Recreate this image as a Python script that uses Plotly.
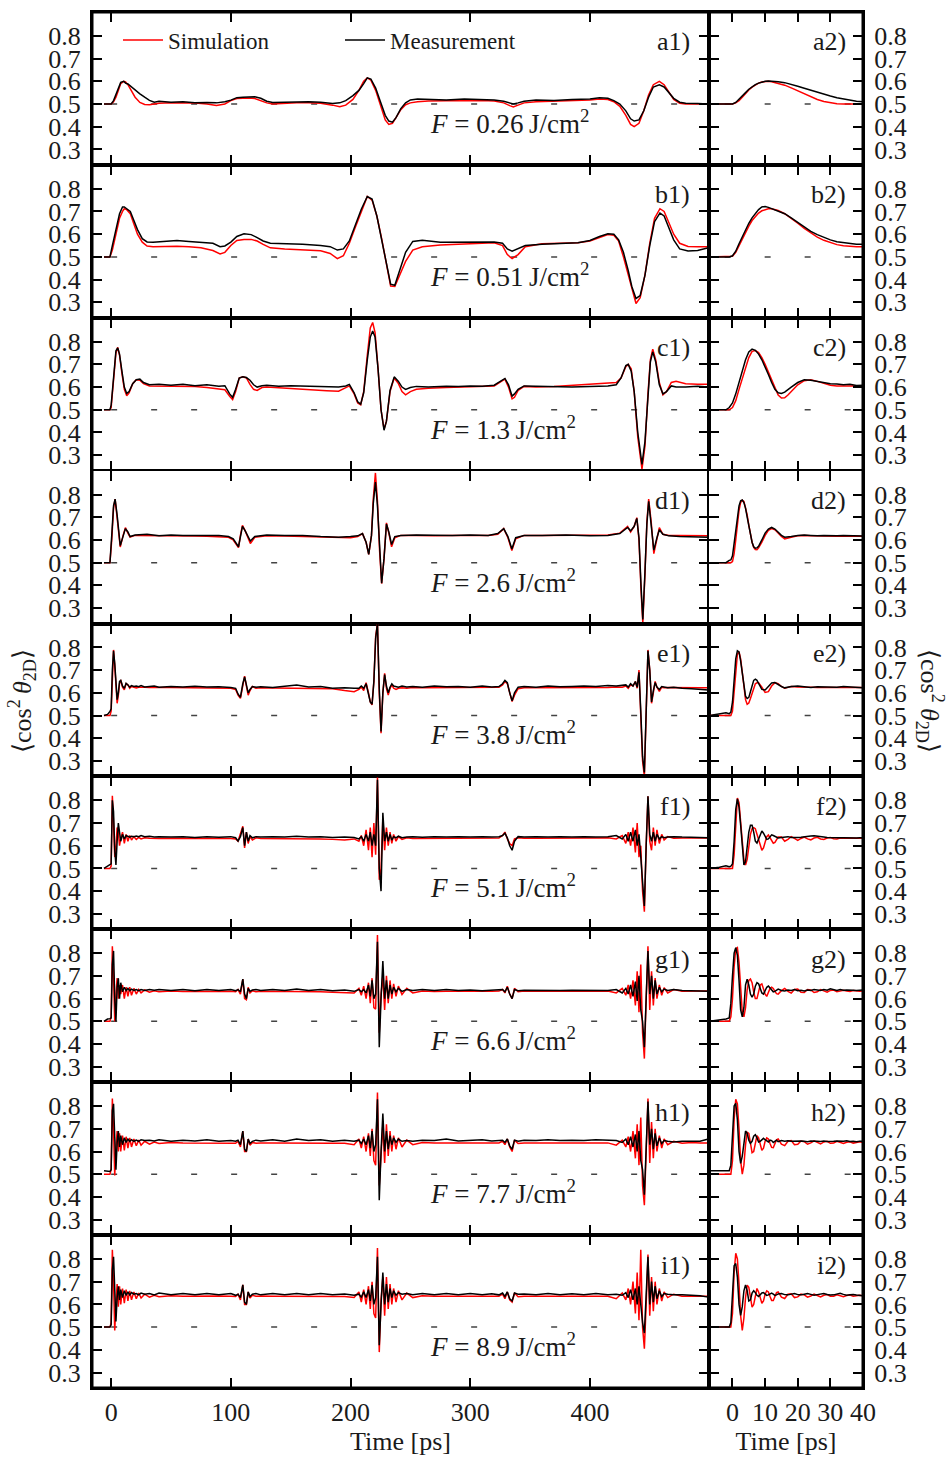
import plotly.graph_objects as go
from plotly.subplots import make_subplots

# ---------------- data ----------------
ROW_LETTERS = ["a", "b", "c", "d", "e", "f", "g", "h", "i"]
FLUENCE = ["0.26", "0.51", "1.3", "2.6", "3.8", "5.1", "6.6", "7.7", "8.9"]
X_TICKS_LEFT = [0, 100, 200, 300, 400]
X_TICKS_RIGHT = [0, 10, 20, 30, 40]
Y_TICKS = [0.3, 0.4, 0.5, 0.6, 0.7, 0.8]
Y_TICK_TEXT = ["0.3", "0.4", "0.5", "0.6", "0.7", "0.8"]
BASELINE = 0.5

T_A1 = [-6, 0, 2, 4, 6, 8, 10.5, 12, 14, 17,
        20, 24, 28, 32, 36, 40, 50, 60, 70, 80,
        88, 95, 100, 105, 110, 115, 120, 125, 130, 135,
        145, 155, 165, 175, 185, 191, 196, 202, 207, 211,
        214, 217, 221, 225, 229, 232, 235, 238, 242, 246,
        250, 256, 265, 280, 295, 310, 320, 328, 333, 336,
        340, 345, 355, 370, 385, 400, 408, 415, 420, 425,
        430, 434, 437, 441, 445, 449, 453, 458, 462, 466,
        470, 475, 480, 490, 499]
SIM_A1 = [0.5, 0.5, 0.51, 0.53, 0.56, 0.59, 0.6, 0.597, 0.585, 0.56,
          0.53, 0.507, 0.498, 0.497, 0.5, 0.503, 0.505, 0.505, 0.504, 0.5,
          0.494, 0.5, 0.515, 0.524, 0.526, 0.526, 0.524, 0.515, 0.505, 0.5,
          0.503, 0.505, 0.505, 0.503, 0.495, 0.488, 0.495, 0.52, 0.56, 0.6,
          0.615, 0.605, 0.56, 0.49, 0.43, 0.41, 0.415, 0.44, 0.475, 0.497,
          0.505, 0.51, 0.513, 0.514, 0.515, 0.515, 0.513, 0.505, 0.493, 0.487,
          0.495, 0.505, 0.51, 0.512, 0.514, 0.518, 0.522, 0.52, 0.51, 0.49,
          0.45, 0.41, 0.4, 0.415, 0.47, 0.54, 0.585, 0.6, 0.585, 0.55,
          0.52, 0.503, 0.5, 0.5, 0.5]
MEAS_A1 = [0.5, 0.5, 0.515, 0.54, 0.57, 0.595, 0.6, 0.592, 0.588, 0.575,
           0.56, 0.545, 0.53, 0.516, 0.508, 0.512, 0.508, 0.51, 0.505, 0.507,
           0.505, 0.51, 0.517, 0.528, 0.53, 0.53, 0.532, 0.525, 0.512, 0.507,
           0.508, 0.51, 0.51, 0.508, 0.502, 0.505, 0.515, 0.537, 0.56, 0.59,
           0.615, 0.61, 0.57, 0.51, 0.45, 0.425, 0.42, 0.44, 0.48, 0.505,
           0.518, 0.522, 0.52, 0.518, 0.522, 0.52, 0.518, 0.512, 0.505, 0.5,
           0.505, 0.512, 0.518, 0.515, 0.52, 0.522, 0.528, 0.525, 0.515, 0.5,
           0.47, 0.435, 0.425, 0.43, 0.47, 0.53, 0.575, 0.585, 0.575, 0.55,
           0.525, 0.508, 0.503, 0.502, 0.5]

T_B1 = [-6, -1, 1, 3, 5, 7, 9.5, 11, 13, 16,
        19, 22, 26, 30, 35, 45, 55, 65, 75, 85,
        91, 95, 100, 105, 111, 117, 122, 127, 133, 145,
        160, 175, 183, 189, 194, 199, 204, 209, 214, 218,
        222, 226, 230, 233.5, 237, 241, 246, 252, 260, 275,
        290, 305, 320, 327, 331, 335, 340, 346, 360, 375,
        390, 400, 408, 415, 420, 424, 428, 432, 435, 438.5,
        442, 446, 450, 454, 458.5, 462, 466, 470, 475, 482,
        490, 499]
SIM_B1 = [0.5, 0.5, 0.53, 0.58, 0.63, 0.67, 0.7, 0.712, 0.708, 0.69,
          0.645, 0.6, 0.565, 0.548, 0.545, 0.547, 0.547, 0.545, 0.54, 0.528,
          0.513, 0.52, 0.55, 0.572, 0.577, 0.577, 0.57, 0.555, 0.54, 0.535,
          0.532, 0.527, 0.515, 0.492, 0.505, 0.56, 0.63, 0.7, 0.766, 0.75,
          0.68, 0.58, 0.46, 0.372, 0.37, 0.42, 0.48, 0.53, 0.545, 0.552,
          0.556, 0.56, 0.562, 0.55, 0.51, 0.493, 0.51, 0.545, 0.558, 0.56,
          0.562, 0.57, 0.585, 0.598, 0.595, 0.57, 0.5, 0.42, 0.36, 0.295,
          0.32, 0.42, 0.56, 0.67, 0.712, 0.7, 0.65, 0.6, 0.56, 0.546,
          0.545, 0.545]
MEAS_B1 = [0.5, 0.5, 0.55, 0.6, 0.65, 0.69, 0.72, 0.72, 0.712, 0.7,
           0.66, 0.62, 0.58, 0.566, 0.565, 0.568, 0.572, 0.568, 0.565, 0.56,
           0.545, 0.548, 0.565, 0.59, 0.602, 0.598, 0.585, 0.57, 0.56, 0.558,
           0.556, 0.55, 0.545, 0.53, 0.535, 0.57, 0.64, 0.71, 0.766, 0.755,
           0.68, 0.58, 0.47, 0.38, 0.375, 0.44, 0.52, 0.568, 0.573, 0.565,
           0.566, 0.565, 0.566, 0.56, 0.535, 0.525, 0.535, 0.55, 0.556, 0.558,
           0.562, 0.572, 0.59, 0.602, 0.6, 0.575, 0.52, 0.44, 0.37, 0.317,
           0.33, 0.42, 0.55, 0.655, 0.693, 0.68, 0.63, 0.575, 0.535, 0.526,
           0.528, 0.54]

T_C1 = [-6, -1, 0, 2, 4, 5.5, 7, 9, 11, 13,
        15, 18, 21, 24, 27, 32, 40, 50, 60, 70,
        80, 90, 95, 99, 101.5, 104, 107, 110, 113, 116,
        119, 122, 126, 130, 140, 150, 160, 170, 180, 190,
        196, 199, 203, 206, 208.5, 211, 214, 216.5, 218.5, 220.5,
        223, 225.5, 228, 230, 233, 236.5, 240, 243, 246, 250,
        255, 265, 280, 290, 300, 310, 320, 326, 329, 332,
        335, 337, 340, 345, 355, 370, 385, 400, 415, 422,
        426, 430, 432, 434.5, 437, 440, 443.5, 446, 448.5, 450.5,
        452.5, 455, 458, 461, 464, 468, 472, 480, 490, 499]
SIM_C1 = [0.5, 0.5, 0.51, 0.62, 0.75, 0.775, 0.74, 0.66, 0.59, 0.562,
          0.575, 0.615, 0.632, 0.63, 0.615, 0.605, 0.605, 0.604, 0.603, 0.602,
          0.598, 0.592, 0.588, 0.56, 0.545, 0.58, 0.64, 0.645, 0.64, 0.612,
          0.59, 0.585, 0.598, 0.6, 0.598, 0.594, 0.59, 0.586, 0.584, 0.582,
          0.595, 0.605, 0.57, 0.53, 0.522, 0.58, 0.74, 0.86, 0.884, 0.84,
          0.68, 0.5, 0.415, 0.45, 0.58, 0.64, 0.615, 0.58, 0.566, 0.58,
          0.59, 0.595, 0.598, 0.6, 0.6, 0.602, 0.605, 0.625, 0.635, 0.6,
          0.548, 0.555, 0.585, 0.603, 0.6, 0.603, 0.607, 0.612, 0.615, 0.62,
          0.64, 0.69, 0.7, 0.68, 0.58, 0.38, 0.239, 0.34, 0.57, 0.72,
          0.767, 0.72, 0.62, 0.566, 0.58, 0.62, 0.625, 0.615, 0.612, 0.612]
MEAS_C1 = [0.5, 0.5, 0.52, 0.64, 0.76, 0.772, 0.745, 0.67, 0.6, 0.572,
           0.58, 0.615, 0.632, 0.635, 0.62, 0.61, 0.612, 0.608, 0.612, 0.606,
           0.61, 0.604, 0.606, 0.57, 0.555, 0.59, 0.64, 0.645, 0.642, 0.63,
           0.61, 0.6, 0.606, 0.608, 0.604, 0.606, 0.604, 0.605, 0.603, 0.6,
           0.605, 0.612, 0.575, 0.535, 0.525, 0.575, 0.72, 0.82, 0.847, 0.82,
           0.68, 0.5, 0.41, 0.45, 0.585, 0.645, 0.625, 0.6, 0.59, 0.598,
           0.603, 0.6, 0.604, 0.602, 0.605, 0.604, 0.608, 0.628, 0.638, 0.61,
           0.56, 0.57, 0.59, 0.605, 0.604, 0.601, 0.6, 0.602, 0.605, 0.61,
           0.64, 0.695, 0.7, 0.67, 0.58, 0.4, 0.26, 0.36, 0.57, 0.71,
           0.755, 0.71, 0.61, 0.57, 0.58, 0.605, 0.6, 0.6, 0.604, 0.6]

T_D1 = [-6, -1, 0.5, 2, 3.3, 5, 7.6, 10, 11.9, 14,
        15.8, 20, 30, 40, 50, 60, 70, 80, 90, 98,
        102, 106.4, 108, 109.7, 112, 116.3, 120, 130, 145, 160,
        175, 190, 200, 206, 210, 213, 215.2, 217.5, 219, 220.8,
        222.5, 224.3, 226, 228, 230, 232, 234.3, 237, 242, 255,
        270, 285, 300, 315, 323, 328, 331.5, 334.8, 338, 345,
        360, 380, 400, 415, 425, 431.5, 434, 437, 439.2, 441,
        442.7, 444.2, 446, 447.6, 449.1, 451.2, 453.4, 456, 458, 461,
        466, 475, 490, 499]
SIM_D1 = [0.5, 0.5, 0.6, 0.74, 0.78, 0.7, 0.569, 0.62, 0.654, 0.63,
          0.613, 0.62, 0.62, 0.62, 0.618, 0.617, 0.617, 0.616, 0.615, 0.612,
          0.6, 0.566, 0.62, 0.664, 0.64, 0.584, 0.612, 0.618, 0.617, 0.615,
          0.612, 0.608, 0.61, 0.615, 0.628, 0.59, 0.537, 0.62, 0.78, 0.895,
          0.77, 0.55, 0.408, 0.52, 0.675, 0.63, 0.57, 0.61, 0.62, 0.62,
          0.618, 0.62, 0.62, 0.62, 0.625, 0.65, 0.61, 0.554, 0.605, 0.62,
          0.62, 0.62, 0.62, 0.622, 0.63, 0.66, 0.635, 0.66, 0.698, 0.6,
          0.38, 0.235, 0.45, 0.68, 0.78, 0.68, 0.54, 0.6, 0.654, 0.625,
          0.62, 0.62, 0.618, 0.618]
MEAS_D1 = [0.5, 0.5, 0.62, 0.75, 0.78, 0.71, 0.575, 0.62, 0.65, 0.635,
           0.615, 0.622, 0.625, 0.618, 0.622, 0.62, 0.62, 0.618, 0.62, 0.615,
           0.605, 0.57, 0.62, 0.66, 0.64, 0.595, 0.615, 0.622, 0.62, 0.62,
           0.615, 0.612, 0.615, 0.618, 0.628, 0.59, 0.537, 0.62, 0.76, 0.855,
           0.75, 0.55, 0.41, 0.52, 0.67, 0.635, 0.58, 0.615, 0.62, 0.622,
           0.62, 0.62, 0.622, 0.62, 0.628, 0.65, 0.615, 0.56, 0.61, 0.62,
           0.62, 0.622, 0.618, 0.62, 0.628, 0.655, 0.64, 0.66, 0.695, 0.61,
           0.4, 0.25, 0.46, 0.67, 0.77, 0.67, 0.555, 0.61, 0.645, 0.625,
           0.618, 0.615, 0.612, 0.612]

# shared time grid for the high-fluence rows e1..i1
T_FAST = [-6, -3, -1, 0, 1, 2, 3, 4, 5, 6,
          7, 8, 9.5, 11, 12.5, 14, 15.5, 17, 19, 21,
          23, 25, 28, 32, 36, 40, 50, 60, 70, 80,
          90, 100, 104, 106, 108, 110, 111.5, 113, 114.5, 116,
          118, 121, 125, 135, 145, 155, 165, 175, 185, 195,
          203, 207, 209, 211, 213, 215, 216.5, 218, 219.5, 221,
          222.5, 224, 225.5, 227, 228.5, 230, 231.5, 233, 234.5, 236,
          238, 240, 243, 247, 252, 260, 270, 280, 290, 300,
          310, 318, 324, 327, 329, 331, 333, 335, 337, 340,
          345, 355, 365, 375, 385, 395, 405, 415, 422, 427,
          430, 432, 434, 436, 438, 439.5, 441, 442.5, 444, 445.5,
          447, 448.5, 450, 451.5, 453, 454.5, 456, 458, 460, 462,
          465, 470, 477, 485, 492, 499]
SIM_E1 = [0.5, 0.5, 0.5, 0.52, 0.7, 0.789, 0.72, 0.6, 0.554, 0.59,
          0.64, 0.657, 0.625, 0.613, 0.64, 0.635, 0.62, 0.628, 0.625, 0.622,
          0.625, 0.624, 0.625, 0.624, 0.623, 0.624, 0.623, 0.622, 0.622, 0.621,
          0.62, 0.62, 0.615, 0.59, 0.576, 0.64, 0.674, 0.63, 0.59, 0.61,
          0.628, 0.62, 0.622, 0.621, 0.62, 0.62, 0.62, 0.62, 0.618, 0.61,
          0.605, 0.615, 0.625, 0.61, 0.645, 0.6, 0.56, 0.547, 0.65, 0.85,
          0.905, 0.6, 0.422, 0.6, 0.686, 0.62, 0.59, 0.62, 0.635, 0.62,
          0.615, 0.62, 0.622, 0.62, 0.623, 0.622, 0.622, 0.623, 0.622, 0.622,
          0.622, 0.622, 0.625, 0.635, 0.65, 0.64, 0.6, 0.562, 0.59, 0.618,
          0.622, 0.622, 0.623, 0.622, 0.623, 0.623, 0.624, 0.624, 0.626, 0.625,
          0.63, 0.62, 0.635, 0.63, 0.65, 0.62, 0.7, 0.5, 0.3, 0.232,
          0.5, 0.789, 0.7, 0.554, 0.6, 0.65, 0.625, 0.606, 0.625, 0.622,
          0.624, 0.623, 0.622, 0.622, 0.622, 0.622]
MEAS_E1 = [0.5, 0.505, 0.518, 0.53, 0.7, 0.785, 0.73, 0.62, 0.57, 0.6,
           0.65, 0.655, 0.63, 0.62, 0.642, 0.635, 0.625, 0.632, 0.628, 0.63,
           0.627, 0.632, 0.626, 0.628, 0.63, 0.625, 0.628, 0.626, 0.629, 0.626,
           0.627, 0.624, 0.62, 0.595, 0.58, 0.64, 0.67, 0.635, 0.6, 0.615,
           0.628, 0.625, 0.627, 0.624, 0.63, 0.634, 0.626, 0.628, 0.62, 0.622,
           0.62, 0.62, 0.63, 0.62, 0.64, 0.6, 0.56, 0.55, 0.65, 0.84,
           0.905, 0.62, 0.43, 0.6, 0.68, 0.63, 0.6, 0.625, 0.64, 0.63,
           0.628, 0.625, 0.63, 0.626, 0.628, 0.625, 0.63, 0.627, 0.628, 0.625,
           0.63, 0.626, 0.628, 0.64, 0.655, 0.645, 0.6, 0.565, 0.6, 0.625,
           0.628, 0.625, 0.63, 0.627, 0.628, 0.63, 0.628, 0.632, 0.63, 0.632,
           0.635, 0.625, 0.64, 0.63, 0.65, 0.625, 0.69, 0.52, 0.32, 0.25,
           0.5, 0.785, 0.7, 0.56, 0.61, 0.645, 0.625, 0.615, 0.628, 0.625,
           0.622, 0.625, 0.62, 0.618, 0.615, 0.612]
SIM_F1 = [0.5, 0.5, 0.5, 0.51, 0.82, 0.7, 0.55, 0.6, 0.68, 0.66,
          0.6, 0.63, 0.66, 0.61, 0.65, 0.62, 0.645, 0.625, 0.64, 0.628,
          0.637, 0.63, 0.635, 0.633, 0.634, 0.632, 0.633, 0.632, 0.633, 0.632,
          0.632, 0.632, 0.63, 0.62, 0.65, 0.686, 0.59, 0.66, 0.61, 0.64,
          0.625, 0.635, 0.632, 0.632, 0.63, 0.63, 0.63, 0.63, 0.628, 0.625,
          0.63, 0.62, 0.645, 0.6, 0.67, 0.58, 0.68, 0.55, 0.7, 0.56,
          0.9, 0.45, 0.5, 0.72, 0.58, 0.68, 0.6, 0.66, 0.61, 0.65,
          0.62, 0.64, 0.628, 0.635, 0.632, 0.632, 0.633, 0.632, 0.633, 0.632,
          0.633, 0.633, 0.634, 0.645, 0.66, 0.63, 0.61, 0.6, 0.63, 0.635,
          0.633, 0.633, 0.634, 0.633, 0.634, 0.634, 0.634, 0.635, 0.63, 0.645,
          0.61, 0.66, 0.6, 0.68, 0.57, 0.7, 0.55, 0.6, 0.4, 0.31,
          0.6, 0.818, 0.62, 0.58, 0.68, 0.6, 0.67, 0.61, 0.65, 0.625,
          0.64, 0.633, 0.634, 0.634, 0.634, 0.634]
MEAS_F1 = [0.5, 0.51, 0.515, 0.52, 0.8, 0.75, 0.58, 0.515, 0.62, 0.7,
           0.66, 0.62, 0.65, 0.63, 0.645, 0.64, 0.638, 0.642, 0.64, 0.643,
           0.64, 0.645, 0.64, 0.642, 0.638, 0.64, 0.638, 0.64, 0.636, 0.64,
           0.637, 0.64, 0.635, 0.62, 0.64, 0.68, 0.6, 0.66, 0.62, 0.645,
           0.635, 0.64, 0.638, 0.64, 0.638, 0.642, 0.638, 0.64, 0.636, 0.638,
           0.636, 0.63, 0.64, 0.62, 0.65, 0.62, 0.66, 0.6, 0.65, 0.6,
           0.89, 0.5, 0.4, 0.745, 0.62, 0.66, 0.62, 0.65, 0.625, 0.64,
           0.635, 0.642, 0.635, 0.638, 0.64, 0.637, 0.64, 0.638, 0.64, 0.638,
           0.64, 0.638, 0.64, 0.645, 0.655, 0.635, 0.6, 0.58, 0.62, 0.64,
           0.638, 0.64, 0.638, 0.64, 0.638, 0.64, 0.638, 0.64, 0.645, 0.63,
           0.65, 0.62, 0.66, 0.62, 0.67, 0.6, 0.65, 0.55, 0.45, 0.335,
           0.6, 0.818, 0.65, 0.62, 0.66, 0.62, 0.65, 0.63, 0.64, 0.635,
           0.638, 0.64, 0.638, 0.638, 0.636, 0.635]
SIM_G1 = [0.5, 0.5, 0.5, 0.52, 0.83, 0.7, 0.5, 0.62, 0.69, 0.6,
          0.66, 0.62, 0.66, 0.6, 0.65, 0.61, 0.65, 0.615, 0.645, 0.62,
          0.64, 0.625, 0.638, 0.628, 0.635, 0.63, 0.633, 0.631, 0.632, 0.631,
          0.632, 0.632, 0.63, 0.64, 0.62, 0.686, 0.6, 0.595, 0.65, 0.625,
          0.635, 0.63, 0.632, 0.632, 0.63, 0.63, 0.63, 0.63, 0.628, 0.628,
          0.625, 0.645, 0.615, 0.655, 0.6, 0.67, 0.58, 0.69, 0.56, 0.554,
          0.88, 0.45, 0.62, 0.7, 0.55, 0.7, 0.58, 0.68, 0.6, 0.665,
          0.61, 0.655, 0.618, 0.645, 0.625, 0.634, 0.631, 0.632, 0.631, 0.632,
          0.632, 0.632, 0.633, 0.64, 0.625, 0.655, 0.62, 0.6, 0.645, 0.63,
          0.633, 0.632, 0.633, 0.632, 0.633, 0.632, 0.633, 0.633, 0.625, 0.645,
          0.615, 0.66, 0.6, 0.68, 0.57, 0.72, 0.54, 0.75, 0.45, 0.336,
          0.6, 0.83, 0.55, 0.72, 0.57, 0.69, 0.6, 0.66, 0.615, 0.648,
          0.625, 0.64, 0.632, 0.634, 0.633, 0.633]
MEAS_G1 = [0.5, 0.51, 0.512, 0.515, 0.75, 0.81, 0.6, 0.5, 0.65, 0.69,
           0.6, 0.67, 0.63, 0.65, 0.635, 0.645, 0.635, 0.642, 0.636, 0.64,
           0.635, 0.64, 0.636, 0.64, 0.637, 0.64, 0.636, 0.64, 0.635, 0.64,
           0.636, 0.64, 0.635, 0.64, 0.63, 0.686, 0.62, 0.6, 0.645, 0.632,
           0.638, 0.64, 0.636, 0.64, 0.636, 0.642, 0.636, 0.64, 0.635, 0.638,
           0.632, 0.64, 0.63, 0.64, 0.625, 0.66, 0.61, 0.68, 0.6, 0.62,
           0.85, 0.386, 0.6, 0.766, 0.6, 0.68, 0.6, 0.66, 0.62, 0.65,
           0.63, 0.645, 0.632, 0.64, 0.636, 0.64, 0.636, 0.64, 0.636, 0.638,
           0.635, 0.637, 0.636, 0.64, 0.63, 0.65, 0.62, 0.6, 0.64, 0.635,
           0.637, 0.636, 0.638, 0.636, 0.637, 0.636, 0.638, 0.636, 0.64, 0.625,
           0.645, 0.62, 0.66, 0.61, 0.675, 0.59, 0.7, 0.55, 0.5, 0.386,
           0.6, 0.81, 0.62, 0.7, 0.6, 0.68, 0.62, 0.65, 0.63, 0.642,
           0.636, 0.64, 0.636, 0.635, 0.632, 0.632]
SIM_H1 = [0.5, 0.5, 0.5, 0.52, 0.833, 0.7, 0.495, 0.62, 0.69, 0.6,
          0.68, 0.6, 0.67, 0.605, 0.665, 0.615, 0.66, 0.62, 0.655, 0.625,
          0.65, 0.628, 0.645, 0.632, 0.642, 0.635, 0.64, 0.638, 0.638, 0.637,
          0.638, 0.638, 0.636, 0.645, 0.62, 0.69, 0.6, 0.6, 0.655, 0.628,
          0.64, 0.636, 0.638, 0.638, 0.637, 0.638, 0.637, 0.637, 0.636, 0.636,
          0.63, 0.655, 0.615, 0.665, 0.6, 0.68, 0.58, 0.7, 0.56, 0.54,
          0.86, 0.45, 0.62, 0.72, 0.55, 0.72, 0.58, 0.69, 0.6, 0.67,
          0.61, 0.66, 0.62, 0.65, 0.63, 0.64, 0.638, 0.638, 0.638, 0.638,
          0.638, 0.638, 0.638, 0.645, 0.63, 0.655, 0.62, 0.6, 0.65, 0.635,
          0.638, 0.638, 0.638, 0.638, 0.638, 0.638, 0.638, 0.638, 0.628, 0.65,
          0.62, 0.665, 0.6, 0.69, 0.57, 0.72, 0.54, 0.75, 0.45, 0.364,
          0.6, 0.833, 0.55, 0.73, 0.57, 0.7, 0.6, 0.67, 0.615, 0.655,
          0.63, 0.645, 0.636, 0.64, 0.638, 0.638]
MEAS_H1 = [0.515, 0.515, 0.512, 0.52, 0.78, 0.81, 0.6, 0.52, 0.64, 0.69,
           0.62, 0.67, 0.63, 0.66, 0.64, 0.655, 0.645, 0.652, 0.645, 0.65,
           0.645, 0.652, 0.648, 0.65, 0.646, 0.652, 0.645, 0.65, 0.646, 0.652,
           0.645, 0.648, 0.645, 0.65, 0.63, 0.69, 0.61, 0.6, 0.655, 0.635,
           0.645, 0.65, 0.646, 0.652, 0.645, 0.655, 0.648, 0.652, 0.645, 0.65,
           0.645, 0.65, 0.635, 0.655, 0.63, 0.67, 0.615, 0.69, 0.6, 0.63,
           0.83, 0.386, 0.6, 0.767, 0.6, 0.69, 0.61, 0.67, 0.63, 0.66,
           0.64, 0.655, 0.645, 0.648, 0.645, 0.65, 0.648, 0.655, 0.646, 0.65,
           0.652, 0.646, 0.65, 0.65, 0.64, 0.655, 0.625, 0.61, 0.65, 0.645,
           0.65, 0.648, 0.652, 0.648, 0.65, 0.648, 0.652, 0.648, 0.648, 0.64,
           0.655, 0.63, 0.665, 0.62, 0.675, 0.6, 0.69, 0.56, 0.52, 0.41,
           0.62, 0.82, 0.63, 0.7, 0.61, 0.68, 0.625, 0.66, 0.635, 0.648,
           0.645, 0.642, 0.645, 0.645, 0.645, 0.655]
SIM_I1 = [0.5, 0.5, 0.5, 0.52, 0.84, 0.7, 0.485, 0.6, 0.69, 0.59,
          0.68, 0.6, 0.67, 0.605, 0.665, 0.615, 0.66, 0.62, 0.655, 0.625,
          0.65, 0.628, 0.645, 0.632, 0.64, 0.634, 0.638, 0.636, 0.637, 0.636,
          0.637, 0.636, 0.635, 0.645, 0.62, 0.686, 0.6, 0.6, 0.655, 0.628,
          0.64, 0.636, 0.637, 0.636, 0.636, 0.636, 0.636, 0.636, 0.635, 0.635,
          0.63, 0.655, 0.61, 0.665, 0.6, 0.68, 0.58, 0.7, 0.56, 0.54,
          0.848, 0.39, 0.62, 0.72, 0.55, 0.72, 0.58, 0.69, 0.6, 0.67,
          0.61, 0.66, 0.62, 0.65, 0.63, 0.638, 0.636, 0.636, 0.636, 0.636,
          0.636, 0.636, 0.636, 0.645, 0.625, 0.655, 0.62, 0.61, 0.65, 0.634,
          0.636, 0.636, 0.636, 0.636, 0.636, 0.636, 0.636, 0.636, 0.625, 0.65,
          0.62, 0.67, 0.6, 0.7, 0.56, 0.74, 0.53, 0.84, 0.5, 0.405,
          0.6, 0.82, 0.55, 0.72, 0.57, 0.7, 0.6, 0.67, 0.615, 0.655,
          0.63, 0.645, 0.636, 0.636, 0.636, 0.636]
MEAS_I1 = [0.5, 0.5, 0.5, 0.51, 0.75, 0.81, 0.62, 0.525, 0.63, 0.68,
           0.62, 0.665, 0.63, 0.66, 0.64, 0.655, 0.642, 0.652, 0.645, 0.648,
           0.642, 0.65, 0.645, 0.648, 0.642, 0.65, 0.643, 0.648, 0.642, 0.648,
           0.643, 0.648, 0.64, 0.645, 0.63, 0.686, 0.61, 0.6, 0.655, 0.635,
           0.645, 0.648, 0.642, 0.648, 0.643, 0.648, 0.642, 0.648, 0.643, 0.646,
           0.64, 0.645, 0.632, 0.655, 0.63, 0.665, 0.615, 0.685, 0.6, 0.63,
           0.81, 0.42, 0.6, 0.74, 0.6, 0.69, 0.61, 0.67, 0.63, 0.66,
           0.64, 0.652, 0.645, 0.648, 0.643, 0.648, 0.643, 0.648, 0.643, 0.648,
           0.643, 0.647, 0.642, 0.65, 0.635, 0.655, 0.625, 0.615, 0.65, 0.645,
           0.646, 0.642, 0.648, 0.643, 0.647, 0.642, 0.648, 0.643, 0.645, 0.64,
           0.652, 0.63, 0.665, 0.62, 0.67, 0.6, 0.68, 0.58, 0.52, 0.474,
           0.62, 0.81, 0.6, 0.7, 0.61, 0.68, 0.625, 0.66, 0.635, 0.648,
           0.645, 0.642, 0.642, 0.64, 0.638, 0.632]

# right-hand (zoomed, 0-40 ps) panels
T_A2 = [-7, 0, 1, 2, 3, 4, 5, 6, 7, 8, 9, 10, 11, 12,
        14, 16, 18, 20, 22, 24, 26, 28, 30, 32, 34, 36, 38, 40]
SIM_A2 = [0.5, 0.5, 0.505, 0.515, 0.53, 0.548, 0.562, 0.574, 0.584, 0.592, 0.597, 0.6, 0.6, 0.598,
          0.592, 0.583, 0.571, 0.558, 0.545, 0.532, 0.52, 0.511, 0.505, 0.501, 0.5, 0.5, 0.5, 0.5]
MEAS_A2 = [0.5, 0.5, 0.507, 0.52, 0.535, 0.55, 0.565, 0.576, 0.585, 0.592, 0.597, 0.6, 0.601, 0.601,
           0.598, 0.594, 0.587, 0.578, 0.569, 0.56, 0.551, 0.543, 0.535, 0.528, 0.522, 0.516, 0.512, 0.51]

T_B2 = [-7, -1, 0, 1, 2, 3, 4, 5, 6, 7, 8, 9, 10, 11, 12, 13, 14,
        16, 18, 20, 22, 24, 26, 28, 30, 32, 34, 36, 38, 40]
SIM_B2 = [0.5, 0.5, 0.503, 0.52, 0.55, 0.58, 0.61, 0.635, 0.66, 0.678, 0.693, 0.703, 0.709, 0.712, 0.712, 0.709, 0.704,
          0.69, 0.67, 0.648, 0.625, 0.605, 0.587, 0.573, 0.562, 0.554, 0.549, 0.546, 0.545, 0.545]
MEAS_B2 = [0.5, 0.5, 0.505, 0.525, 0.558, 0.59, 0.62, 0.648, 0.672, 0.692, 0.708, 0.72, 0.722, 0.718, 0.713, 0.708, 0.703,
           0.69, 0.672, 0.652, 0.632, 0.612, 0.598, 0.585, 0.575, 0.567, 0.563, 0.558, 0.556, 0.556]

T_C2 = [-7, -2, -1, 0, 1, 2, 3, 4, 5, 6, 7, 8, 9, 10, 11, 12, 13, 14, 15, 16, 17, 18,
        20, 22, 24, 26, 28, 30, 32, 34, 36, 38, 40]
SIM_C2 = [0.5, 0.5, 0.5, 0.51, 0.54, 0.59, 0.64, 0.69, 0.73, 0.757, 0.761, 0.752, 0.73, 0.7, 0.665, 0.63,
          0.595, 0.565, 0.552, 0.553, 0.565, 0.58,
          0.61, 0.628, 0.632, 0.625, 0.615, 0.608, 0.605, 0.604, 0.605, 0.606, 0.605]
MEAS_C2 = [0.5, 0.5, 0.51, 0.53, 0.57, 0.62, 0.67, 0.72, 0.755, 0.767, 0.762, 0.745, 0.72, 0.69, 0.655, 0.62,
           0.59, 0.575, 0.572, 0.578, 0.59, 0.6,
           0.62, 0.632, 0.63, 0.625, 0.618, 0.615, 0.613, 0.61, 0.612, 0.607, 0.608]

T_MID = [-7, -2, -1, -0.5, 0, 0.5, 1, 1.5, 2, 2.5,
         3, 3.5, 4, 4.5, 5, 5.5, 6, 6.5, 7, 7.5,
         8, 9, 10, 11, 12, 13, 14, 15, 16, 17,
         18, 20, 22, 24, 26, 28, 30, 32, 34, 36,
         38, 40]
SIM_D2 = [0.5, 0.5, 0.5, 0.5, 0.505, 0.54, 0.6, 0.67, 0.73, 0.765,
          0.775, 0.77, 0.745, 0.71, 0.665, 0.625, 0.59, 0.567, 0.558, 0.557,
          0.565, 0.59, 0.62, 0.642, 0.65, 0.645, 0.63, 0.615, 0.605, 0.607,
          0.612, 0.618, 0.62, 0.618, 0.617, 0.616, 0.616, 0.616, 0.617, 0.616,
          0.616, 0.616]
MEAS_D2 = [0.5, 0.5, 0.51, 0.512, 0.53, 0.58, 0.64, 0.7, 0.75, 0.772,
           0.776, 0.765, 0.74, 0.7, 0.66, 0.62, 0.59, 0.57, 0.564, 0.565,
           0.572, 0.6, 0.63, 0.648, 0.655, 0.648, 0.635, 0.62, 0.612, 0.612,
           0.615, 0.62, 0.622, 0.62, 0.618, 0.62, 0.618, 0.619, 0.62, 0.618,
           0.617, 0.617]
SIM_E2 = [0.5, 0.5, 0.5, 0.5, 0.52, 0.6, 0.7, 0.77, 0.78, 0.75,
          0.69, 0.62, 0.57, 0.55, 0.555, 0.575, 0.6, 0.625, 0.64, 0.644,
          0.644, 0.625, 0.602, 0.605, 0.63, 0.645, 0.64, 0.628, 0.62, 0.624,
          0.628, 0.626, 0.624, 0.625, 0.624, 0.625, 0.624, 0.624, 0.624, 0.624,
          0.623, 0.623]
MEAS_E2 = [0.5, 0.512, 0.508, 0.515, 0.56, 0.66, 0.75, 0.785, 0.78, 0.74,
           0.68, 0.62, 0.585, 0.575, 0.58, 0.605, 0.635, 0.655, 0.66, 0.655,
           0.642, 0.615, 0.613, 0.628, 0.643, 0.645, 0.635, 0.628, 0.622, 0.625,
           0.628, 0.63, 0.626, 0.624, 0.627, 0.626, 0.627, 0.625, 0.628, 0.626,
           0.625, 0.622]

T_RFAST = [-7, -4, -2, -1, -0.5, 0, 0.5, 1, 1.5, 2,
           2.5, 3, 3.5, 4, 4.5, 5, 5.5, 6, 6.5, 7,
           7.5, 8, 8.5, 9, 9.5, 10, 10.5, 11, 11.5, 12,
           12.5, 13, 13.5, 14, 15, 16, 17, 18, 19, 20,
           21, 22, 23, 24, 25, 26, 27, 28, 29, 30,
           31, 32, 33, 34, 35, 36, 37, 38, 39, 40]
SIM_F2 = [0.5, 0.5, 0.5, 0.5, 0.5, 0.5, 0.56, 0.72, 0.81, 0.79,
          0.72, 0.62, 0.54, 0.515, 0.54, 0.6, 0.65, 0.675, 0.68, 0.675,
          0.65, 0.62, 0.595, 0.58, 0.59, 0.615, 0.64, 0.647, 0.635, 0.62,
          0.611, 0.615, 0.628, 0.638, 0.638, 0.62, 0.628, 0.64, 0.632, 0.624,
          0.632, 0.638, 0.63, 0.626, 0.634, 0.637, 0.63, 0.628, 0.634, 0.636,
          0.631, 0.63, 0.634, 0.634, 0.631, 0.632, 0.634, 0.632, 0.632, 0.633]
MEAS_F2 = [0.5, 0.505, 0.512, 0.508, 0.51, 0.52, 0.62, 0.76, 0.806, 0.77,
           0.69, 0.58, 0.515, 0.53, 0.6, 0.66, 0.69, 0.69, 0.66, 0.62,
           0.612, 0.63, 0.655, 0.665, 0.655, 0.64, 0.628, 0.63, 0.64, 0.648,
           0.645, 0.64, 0.636, 0.634, 0.636, 0.638, 0.64, 0.636, 0.635, 0.636,
           0.637, 0.64, 0.642, 0.643, 0.644, 0.643, 0.64, 0.638, 0.636, 0.635,
           0.635, 0.634, 0.635, 0.635, 0.634, 0.635, 0.635, 0.634, 0.635, 0.635]
SIM_G2 = [0.5, 0.5, 0.5, 0.5, 0.52, 0.6, 0.74, 0.82, 0.825, 0.76,
          0.65, 0.54, 0.52, 0.56, 0.64, 0.68, 0.686, 0.67, 0.63, 0.6,
          0.6, 0.63, 0.66, 0.665, 0.645, 0.62, 0.61, 0.625, 0.645, 0.65,
          0.645, 0.632, 0.622, 0.62, 0.635, 0.645, 0.632, 0.624, 0.64, 0.642,
          0.628, 0.627, 0.64, 0.638, 0.627, 0.63, 0.64, 0.634, 0.628, 0.636,
          0.638, 0.63, 0.632, 0.637, 0.633, 0.631, 0.636, 0.634, 0.632, 0.634]
MEAS_G2 = [0.5, 0.505, 0.51, 0.515, 0.58, 0.7, 0.8, 0.824, 0.79, 0.68,
           0.55, 0.52, 0.56, 0.66, 0.686, 0.66, 0.62, 0.606, 0.62, 0.655,
           0.67, 0.665, 0.645, 0.625, 0.62, 0.635, 0.65, 0.655, 0.648, 0.638,
           0.63, 0.632, 0.638, 0.642, 0.636, 0.634, 0.638, 0.636, 0.64, 0.635,
           0.637, 0.634, 0.638, 0.636, 0.64, 0.637, 0.636, 0.64, 0.637, 0.643,
           0.638, 0.636, 0.64, 0.637, 0.638, 0.636, 0.637, 0.636, 0.637, 0.638]
SIM_H2 = [0.5, 0.5, 0.5, 0.5, 0.5, 0.56, 0.74, 0.83, 0.81, 0.7,
          0.56, 0.5, 0.54, 0.63, 0.685, 0.68, 0.64, 0.595, 0.6, 0.645,
          0.67, 0.66, 0.625, 0.605, 0.615, 0.645, 0.66, 0.655, 0.635, 0.618,
          0.617, 0.635, 0.652, 0.655, 0.632, 0.626, 0.645, 0.648, 0.63, 0.632,
          0.646, 0.643, 0.632, 0.638, 0.647, 0.64, 0.633, 0.642, 0.645, 0.636,
          0.637, 0.645, 0.64, 0.635, 0.641, 0.643, 0.637, 0.639, 0.643, 0.64]
MEAS_H2 = [0.515, 0.515, 0.513, 0.515, 0.54, 0.68, 0.8, 0.812, 0.74, 0.6,
           0.548, 0.58, 0.65, 0.69, 0.68, 0.65, 0.636, 0.645, 0.668, 0.674,
           0.66, 0.642, 0.645, 0.65, 0.658, 0.652, 0.645, 0.642, 0.65, 0.648,
           0.64, 0.645, 0.65, 0.643, 0.648, 0.645, 0.647, 0.645, 0.646, 0.644,
           0.646, 0.645, 0.643, 0.646, 0.644, 0.645, 0.644, 0.646, 0.644, 0.643,
           0.645, 0.646, 0.644, 0.645, 0.647, 0.644, 0.645, 0.643, 0.645, 0.645]
SIM_I2 = [0.5, 0.5, 0.5, 0.5, 0.5, 0.56, 0.74, 0.825, 0.8, 0.69,
          0.55, 0.485, 0.54, 0.63, 0.685, 0.675, 0.63, 0.588, 0.6, 0.645,
          0.67, 0.655, 0.625, 0.605, 0.615, 0.645, 0.66, 0.655, 0.635, 0.617,
          0.617, 0.635, 0.652, 0.655, 0.632, 0.626, 0.645, 0.647, 0.63, 0.633,
          0.645, 0.642, 0.632, 0.637, 0.645, 0.639, 0.633, 0.64, 0.643, 0.636,
          0.636, 0.642, 0.639, 0.634, 0.639, 0.641, 0.636, 0.638, 0.64, 0.638]
MEAS_I2 = [0.5, 0.5, 0.5, 0.5, 0.52, 0.65, 0.77, 0.78, 0.72, 0.6,
           0.552, 0.59, 0.66, 0.686, 0.66, 0.615, 0.62, 0.65, 0.66, 0.652,
           0.64, 0.635, 0.642, 0.65, 0.652, 0.645, 0.64, 0.642, 0.648, 0.65,
           0.645, 0.64, 0.642, 0.646, 0.648, 0.643, 0.642, 0.646, 0.648, 0.643,
           0.642, 0.645, 0.648, 0.644, 0.64, 0.643, 0.645, 0.648, 0.644, 0.641,
           0.642, 0.646, 0.649, 0.644, 0.64, 0.642, 0.644, 0.641, 0.64, 0.638]

LEFT_T = [T_A1, T_B1, T_C1, T_D1, T_FAST, T_FAST, T_FAST, T_FAST, T_FAST]
LEFT_SIM = [SIM_A1, SIM_B1, SIM_C1, SIM_D1, SIM_E1, SIM_F1, SIM_G1, SIM_H1, SIM_I1]
LEFT_MEAS = [MEAS_A1, MEAS_B1, MEAS_C1, MEAS_D1, MEAS_E1, MEAS_F1, MEAS_G1, MEAS_H1, MEAS_I1]
RIGHT_T = [T_A2, T_B2, T_C2, T_MID, T_MID, T_RFAST, T_RFAST, T_RFAST, T_RFAST]
RIGHT_SIM = [SIM_A2, SIM_B2, SIM_C2, SIM_D2, SIM_E2, SIM_F2, SIM_G2, SIM_H2, SIM_I2]
RIGHT_MEAS = [MEAS_A2, MEAS_B2, MEAS_C2, MEAS_D2, MEAS_E2, MEAS_F2, MEAS_G2, MEAS_H2, MEAS_I2]

# ---------------- styling / layout ----------------
FONT = "Liberation Serif"
TXT = "#1a1a1a"
RED = "#ff0000"
BLACK = "#000000"
X_LEFT = [-16, 499.5]
X_RIGHT = [-7.2, 40]
Y_RANGE = [0.232, 0.905]
DASH_LEFT_START = 0
DASH_RIGHT_START = -2.4

W, H = 947, 1461
ML, MR, MT, MB = 92, 84, 10, 73
PW, PH = W - ML - MR, H - MT - MB
NROWS = 9
ROW_PX = PH / NROWS

fig = make_subplots(rows=NROWS, cols=2, column_widths=[617, 154],
                    horizontal_spacing=0, vertical_spacing=0)

for i in range(NROWS):
    r = i + 1
    for c, (tt, ss, mm, xr, d0) in enumerate([
            (LEFT_T[i], LEFT_SIM[i], LEFT_MEAS[i], X_LEFT, DASH_LEFT_START),
            (RIGHT_T[i], RIGHT_SIM[i], RIGHT_MEAS[i], X_RIGHT, DASH_RIGHT_START)], start=1):
        fig.add_trace(go.Scatter(x=[d0, xr[1]], y=[BASELINE, BASELINE], mode="lines",
                                 line=dict(color="#444444", width=1.5, dash="6px,34px"),
                                 showlegend=False, hoverinfo="skip"), row=r, col=c)
        show = (i == 0 and c == 1)
        fig.add_trace(go.Scatter(x=tt, y=ss, mode="lines", name="Simulation",
                                 line=dict(color=RED, width=1.5), showlegend=show,
                                 legend="legend"), row=r, col=c)
        fig.add_trace(go.Scatter(x=tt, y=mm, mode="lines", name="Measurement",
                                 line=dict(color=BLACK, width=1.5), showlegend=show,
                                 legend="legend2"), row=r, col=c)

axis_common = dict(ticks="inside", ticklen=10, tickwidth=1.5, tickcolor="black",
                   showline=True, linewidth=2, linecolor="black", mirror="ticks",
                   showgrid=False, zeroline=False,
                   tickfont=dict(family=FONT, size=26, color=TXT))

for i in range(NROWS):
    r = i + 1
    last = (r == NROWS)
    fig.update_xaxes(range=X_LEFT, tickvals=X_TICKS_LEFT, showticklabels=last,
                     row=r, col=1, **axis_common)
    fig.update_xaxes(range=X_RIGHT, tickvals=X_TICKS_RIGHT, showticklabels=last,
                     row=r, col=2, **axis_common)
    fig.update_yaxes(range=Y_RANGE, tickvals=Y_TICKS, ticktext=Y_TICK_TEXT,
                     ticklabelstandoff=4, row=r, col=1, **axis_common)
    fig.update_yaxes(range=Y_RANGE, tickvals=Y_TICKS, ticktext=Y_TICK_TEXT, side="right",
                     ticklabelstandoff=4, row=r, col=2, **axis_common)
    if last:
        for c in (1, 2):
            fig.update_xaxes(title=dict(text="Time [ps]", standoff=4,
                                        font=dict(family=FONT, size=26, color=TXT)),
                             row=r, col=c)


def py(px):
    return 1 - (px - MT) / PH


def px_x(px):
    return (px - ML) / PW


annotations = []
for i in range(NROWS):
    top = MT + i * ROW_PX
    annotations.append(dict(x=px_x(692), y=py(top + 30), xref="paper", yref="paper",
                            xanchor="right", yanchor="middle", showarrow=False,
                            text=f"{ROW_LETTERS[i]}1)", font=dict(family=FONT, size=26, color=TXT)))
    annotations.append(dict(x=px_x(848), y=py(top + 30), xref="paper", yref="paper",
                            xanchor="right", yanchor="middle", showarrow=False,
                            text=f"{ROW_LETTERS[i]}2)", font=dict(family=FONT, size=26, color=TXT)))
    annotations.append(dict(x=px_x(428), y=py(top + 110), xref="paper", yref="paper",
                            xanchor="left", yanchor="middle", showarrow=False,
                            text=f"<i>F</i> = {FLUENCE[i]}\u2009J/cm<sup>2</sup>",
                            font=dict(family=FONT, size=27, color=TXT)))

ytitle = "\u27e8cos<sup>2</sup>\u2009<i>\u03b8</i><sub>2D</sub>\u27e9"
annotations.append(dict(x=px_x(22), y=py(700), xref="paper", yref="paper",
                        xanchor="center", yanchor="middle", showarrow=False, textangle=-90,
                        text=ytitle, font=dict(family=FONT, size=26, color=TXT)))
annotations.append(dict(x=px_x(930), y=py(700), xref="paper", yref="paper",
                        xanchor="center", yanchor="middle", showarrow=False, textangle=90,
                        text=ytitle, font=dict(family=FONT, size=26, color=TXT)))

legend_common = dict(orientation="h", xanchor="left", yanchor="middle",
                     bgcolor="rgba(0,0,0,0)", borderwidth=0, itemwidth=40,
                     font=dict(family=FONT, size=23, color=TXT), xref="paper", yref="paper")

# outer frame around the whole grid of panels
shapes = [dict(type="rect", xref="paper", yref="paper", x0=0, x1=1, y0=0, y1=1,
               line=dict(color="black", width=3), fillcolor="rgba(0,0,0,0)", layer="above")]

fig.update_layout(
    width=W, height=H,
    margin=dict(l=ML, r=MR, t=MT, b=MB, pad=0),
    paper_bgcolor="white", plot_bgcolor="white",
    annotations=annotations,
    shapes=shapes,
    legend=dict(x=px_x(118), y=py(38), **legend_common),
    legend2=dict(x=px_x(340), y=py(38), **legend_common),
    showlegend=True,
)

fig.write_html("out.html")
